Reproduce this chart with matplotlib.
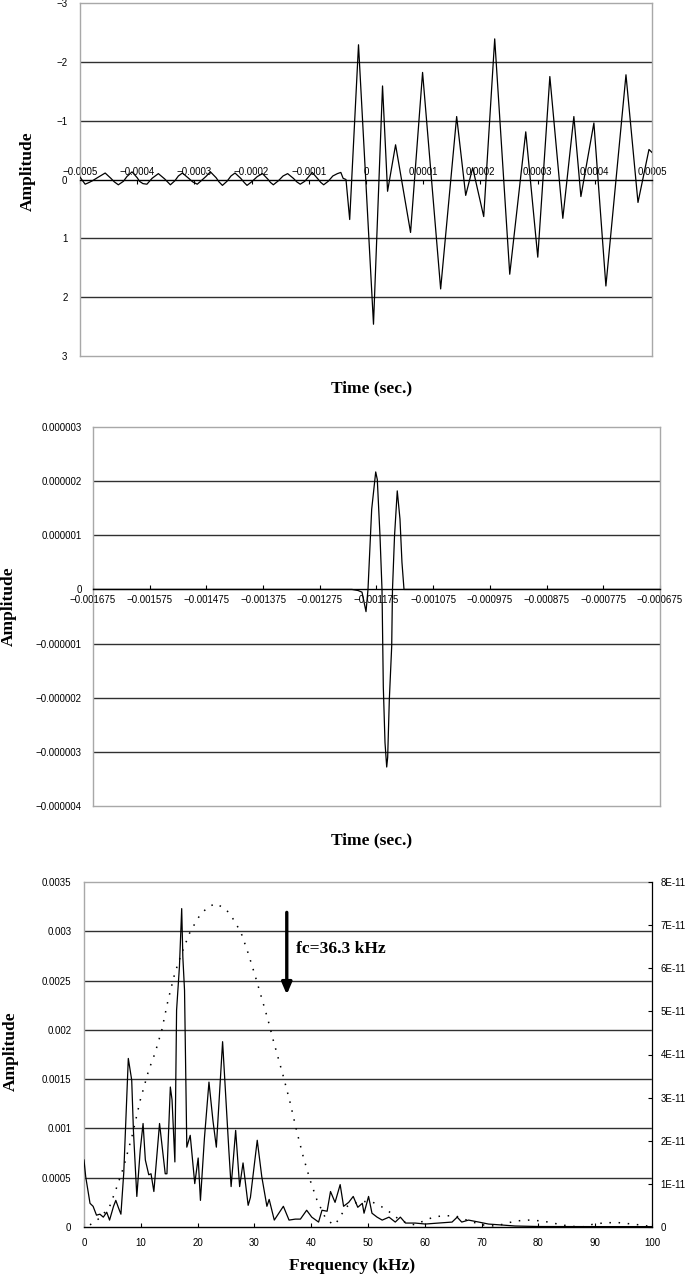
import matplotlib
matplotlib.use('Agg')
import matplotlib.pyplot as plt
import numpy as np

# ---- panel 1: incident waveform (time in microseconds, amplitude) ----
t1_us = [-500, -491, -484, -478, -468, -456, -446, -440, -433, -424, -418, -409, -400, -396, -390,
         -383, -374, -363, -352, -346, -342, -334, -328, -321, -310, -303, -295, -288, -280, -272,
         -262, -257, -251, -243, -236, -229, -219, -213, -208, -200, -190, -181, -172, -167, -162,
         -153, -145, -137, -127, -121, -115, -107, -100, -94, -85, -79, -74, -66, -58, -50,
         -44, -40, -35, -28.5, -13.1, 13.1, 28.9, 37.7, 51.7, 77.9, 98.9, 130.5, 158.5, 174.3,
         186.5, 205.8, 225.0, 251.3, 279.3, 300.3, 321.4, 344.1, 363.4, 375.7, 398.4, 419.4,
         454.5, 475.5, 494.7, 500]
amp1 = [-0.04, 0.08, 0.05, 0.02, -0.04, -0.11, -0.02, 0.04, 0.09, 0.03, -0.05, -0.13, -0.03, 0.03, 0.07,
        0.08, -0.02, -0.10, -0.01, 0.05, 0.09, 0.02, -0.06, -0.11, -0.02, 0.04, 0.08, 0.02, -0.05, -0.13,
        -0.03, 0.04, 0.10, 0.03, -0.06, -0.11, -0.02, 0.05, 0.10, 0.04, -0.05, -0.10, -0.01, 0.05, 0.09,
        0.02, -0.06, -0.10, -0.02, 0.04, 0.08, 0.03, -0.05, -0.12, -0.02, 0.05, 0.09, 0.03, -0.06, -0.10,
        -0.12, -0.02, 0.0, 0.68, -2.29, 2.46, -1.59, 0.20, -0.59, 0.90, -1.82, 1.86, -1.07, 0.27,
        -0.20, 0.63, -2.39, 1.61, -0.81, 1.32, -1.75, 0.66, -1.07, 0.29, -0.96, 1.81,
        -1.78, 0.39, -0.51, -0.46]
x1_ticks = [-0.0005, -0.0004, -0.0003, -0.0002, -0.0001, 0, 0.0001, 0.0002, 0.0003, 0.0004, 0.0005]
x1_labels = ['\u22120.0005', '\u22120.0004', '\u22120.0003', '\u22120.0002', '\u22120.0001',
             '0', '0.0001', '0.0002', '0.0003', '0.0004', '0.0005']
y1_ticks = [-3, -2, -1, 0, 1, 2, 3]
y1_labels = ['\u22123', '\u22122', '\u22121', '0', '1', '2', '3']

# ---- panel 2: extracted pulse (time in microseconds, amplitude) ----
t2_us = [-1675, -1218.2, -1207.6, -1200.6, -1193.5, -1190.0, -1183.5, -1176.4, -1173.6, -1168.8,
         -1165.3, -1163.0, -1160.0, -1157.0, -1155.3, -1152.4, -1148.2, -1146.8, -1143.2, -1138.4,
         -1133.6, -1130.1, -1126.5, -675]
amp2 = [0, 0, -0.02e-6, -0.05e-6, -0.41e-6, 0.0, 1.48e-6, 2.17e-6, 2.03e-6, 0.98e-6,
        0.0, -1.8e-6, -2.83e-6, -3.28e-6, -3.1e-6, -2.04e-6, -1.05e-6, 0.0, 0.99e-6, 1.82e-6,
        1.3e-6, 0.5e-6, 0.0, 0.0]
x2_ticks = [-0.001675, -0.001575, -0.001475, -0.001375, -0.001275, -0.001175,
            -0.001075, -0.000975, -0.000875, -0.000775, -0.000675]
x2_labels = ['\u22120.001675', '\u22120.001575', '\u22120.001475', '\u22120.001375', '\u22120.001275',
             '\u22120.001175', '\u22120.001075', '\u22120.000975', '\u22120.000875', '\u22120.000775',
             '\u22120.000675']
y2_ticks = [-4e-6, -3e-6, -2e-6, -1e-6, 0, 1e-6, 2e-6, 3e-6]
y2_labels = ['\u22120.000004', '\u22120.000003', '\u22120.000002', '\u22120.000001', '0',
             '0.000001', '0.000002', '0.000003']

# ---- panel 3: spectrum (kHz) ----
freq_solid = [0, 0.3, 1.06, 1.6, 2.2, 2.8, 3.4, 4.0, 4.5, 5.2, 5.6, 6.1, 6.5, 7.0, 7.8, 8.4, 8.7, 9.3,
              9.9, 10.4, 10.8, 11.4, 11.8, 12.3, 13.3, 14.3, 14.6, 15.2, 15.5, 16.0, 16.3, 16.8, 17.2,
              17.4, 17.7, 18.1, 18.7, 19.5, 20.1, 20.5, 21.2, 22.0, 22.7, 23.3, 24.4, 25.5, 25.9,
              26.7, 27.4, 28.0, 28.9, 29.3, 30.5, 31.3, 32.2, 32.6, 33.5, 35.1, 36.1, 37.2, 38.1,
              39.2, 40.1, 41.3, 41.9, 42.8, 43.4, 44.2, 45.1, 45.7, 46.6, 47.4, 48.2, 49.0, 49.3,
              50.1, 50.7, 51.6, 52.5, 53.7, 54.8, 55.7, 56.6, 58.3, 60.1, 62.4, 64.8, 65.7, 66.5,
              67.7, 69.5, 71.2, 73.6, 75.9, 80, 90, 100]
amp_solid = [0.00068, 0.00051, 0.00024, 0.00021, 0.00012, 0.00013, 0.0001, 0.00015, 0.00007, 0.00021,
             0.00027, 0.00019, 0.00013, 0.00055, 0.00171, 0.00149, 0.00098, 0.00031, 0.00078, 0.00105,
             0.00068, 0.00053, 0.00054, 0.00036, 0.00105, 0.00054, 0.00054, 0.00142, 0.00129, 0.00066,
             0.0022, 0.00264, 0.00323, 0.00274, 0.0024, 0.00081, 0.00093, 0.00044, 0.0007, 0.00027,
             0.0009, 0.00147, 0.00108, 0.00081, 0.00188, 0.00078, 0.00041, 0.00098, 0.00041, 0.00065,
             0.00022, 0.0003, 0.00088, 0.00051, 0.00021, 0.00028, 0.00007, 0.00021, 0.00007, 0.00008,
             0.00008, 0.00017, 0.0001, 0.00005, 0.00017, 0.00016, 0.00036, 0.00025, 0.00043, 0.00021,
             0.00025, 0.00031, 0.0002, 0.00024, 0.00014, 0.00031, 0.00014, 0.0001, 0.00007, 0.0001,
             0.00005, 0.0001, 0.00004, 0.00004, 0.00003, 0.00004, 0.00005, 0.0001, 0.00005, 0.00007,
             0.00005, 0.00003, 0.00002, 0.00001, 0.000005, 0.000004, 0.000004]
freq_dot = [1.06, 2.8, 4.5, 5.6, 7.0, 8.5, 9.9, 11.4, 12.5, 13.7, 14.8, 16.0, 17.2, 18.7, 20.4, 21.9,
            23.3, 25.1, 26.6, 27.8, 28.9, 30.1, 31.3, 32.4, 33.3, 35.1, 36.3, 37.4, 38.6, 39.8, 41.0,
            42.4, 43.6, 44.2, 45.1, 46.2, 47.4, 48.9, 50.6, 52.4, 54.1, 55.6, 57.1, 58.3, 60.1, 61.8,
            63.6, 65.4, 66.5, 68.3, 70.1, 72.4, 74.2, 76.0, 78.3, 80.7, 83.0, 85.4, 87.7, 89.5, 91.8,
            94.2, 97.1, 99.4]
amp_dot_e11 = [0.05, 0.21, 0.47, 0.86, 1.4, 2.13, 2.94, 3.64, 4.03, 4.57, 5.26, 5.89, 6.35, 6.85, 7.23,
               7.43, 7.5, 7.35, 7.08, 6.77, 6.35, 5.84, 5.3, 4.8, 4.34, 3.49, 2.88, 2.25, 1.63, 1.09,
               0.63, 0.24, 0.08, 0.05, 0.24, 0.47, 0.55, 0.59, 0.59, 0.47, 0.32, 0.16, 0.08, 0.05, 0.16,
               0.24, 0.26, 0.26, 0.2, 0.12, 0.05, 0.02, 0.08, 0.14, 0.16, 0.14, 0.08, 0.02, 0.0, 0.06,
               0.1, 0.1, 0.06, 0.02]
x3_ticks = [0, 10, 20, 30, 40, 50, 60, 70, 80, 90, 100]
y3_ticks = [0, 0.0005, 0.001, 0.0015, 0.002, 0.0025, 0.003, 0.0035]
y3_labels = ['0', '0.0005', '0.001', '0.0015', '0.002', '0.0025', '0.003', '0.0035']
y3r_ticks = [0, 1e-11, 2e-11, 3e-11, 4e-11, 5e-11, 6e-11, 7e-11, 8e-11]
y3r_labels = ['0', '1E-11', '2E-11', '3E-11', '4E-11', '5E-11', '6E-11', '7E-11', '8E-11']
fc = 35.7

W, H = 685, 1275
FRAME = '#a8a8a8'
GRID = '#303030'
SANS = 'Liberation Sans'
SERIF = 'Liberation Serif'
TICK = 7
LAB = 12.5

fig = plt.figure(figsize=(W / 100, H / 100), dpi=100)


def px_axes(left, top, right, bottom):
    return fig.add_axes([left / W, 1 - bottom / H, (right - left) / W, (bottom - top) / H])


def style_frame(ax):
    for s in ax.spines.values():
        s.set_color(FRAME)
        s.set_linewidth(1)
    for lab in ax.get_xticklabels() + ax.get_yticklabels():
        lab.set_fontfamily(SANS)
        lab.set_fontsize(TICK)


# ---------------- panel 1 ----------------
ax1 = px_axes(80, 3, 652, 356)
ax1.plot(np.array(t1_us) * 1e-6, amp1, color='black', lw=0.9, zorder=3)
ax1.set_xlim(-0.0005, 0.0005)
ax1.set_ylim(3, -3)
for g in [-2, -1, 1, 2]:
    ax1.axhline(g, color=GRID, lw=1, zorder=1)
ax1.axhline(-3, color=FRAME, lw=1, clip_on=False)
ax1.xaxis.set_ticks_position('top')
ax1.spines['top'].set_position(('data', 0))
ax1.set_xticks(x1_ticks, x1_labels)
ax1.set_yticks(y1_ticks, y1_labels)
style_frame(ax1)
ax1.spines['top'].set_color('black')
ax1.tick_params(axis='x', direction='in', length=3, pad=2, color='black')
ax1.tick_params(axis='y', length=0, pad=9)

# ---------------- panel 2 ----------------
ax2 = px_axes(93, 427, 660, 806)
ax2.plot(np.array(t2_us) * 1e-6, amp2, color='black', lw=0.9, zorder=3)
ax2.set_xlim(-0.001675, -0.000675)
ax2.set_ylim(-4e-6, 3e-6)
for g in [2e-6, 1e-6, -1e-6, -2e-6, -3e-6]:
    ax2.axhline(g, color=GRID, lw=1, zorder=1)
ax2.axhline(-4e-6, color=FRAME, lw=1, clip_on=False)
ax2.spines['bottom'].set_position(('data', 0))
ax2.set_xticks(x2_ticks, x2_labels)
ax2.set_yticks(y2_ticks, y2_labels)
style_frame(ax2)
ax2.spines['bottom'].set_color('black')
ax2.tick_params(axis='x', direction='in', length=3, pad=4, color='black')
ax2.tick_params(axis='y', length=0, pad=8)

# ---------------- panel 3 ----------------
ax3 = px_axes(84, 882, 652, 1227)
ax3.plot(freq_solid, amp_solid, color='black', lw=0.9, zorder=3)
ax3.set_xlim(0, 100)
ax3.set_ylim(0, 0.0035)
for g in y3_ticks[1:-1]:
    ax3.axhline(g, color=GRID, lw=1, zorder=1)
ax3.set_xticks(x3_ticks, [str(v) for v in x3_ticks])
ax3.set_yticks(y3_ticks, y3_labels)
style_frame(ax3)
ax3.spines['bottom'].set_color('black')
ax3.tick_params(axis='x', direction='in', length=3, pad=8, color='black')
ax3.tick_params(axis='y', length=0, pad=9)
ax3.annotate('', xy=(fc, 0.00233), xytext=(fc, 0.00322),
             arrowprops=dict(arrowstyle='-|>,head_length=0.7,head_width=0.3', lw=2.4, color='black'))
ax3.text(37.4, 0.00282, 'fc=36.3 kHz', fontfamily=SERIF, fontweight='bold', fontsize=LAB,
         va='center', ha='left')

ax3r = ax3.twinx()
ax3r.plot(freq_dot, np.array(amp_dot_e11) * 1e-11, color='black', lw=1.1, linestyle=(0, (1, 5)))
ax3r.set_ylim(0, 8e-11)
ax3r.set_yticks(y3r_ticks, y3r_labels)
for s in ['top', 'left', 'bottom']:
    ax3r.spines[s].set_visible(False)
ax3r.spines['right'].set_color('black')
ax3r.tick_params(axis='y', direction='in', length=3, pad=6, color='black')
for lab in ax3r.get_yticklabels():
    lab.set_fontfamily(SANS)
    lab.set_fontsize(TICK)

# ---------------- axis titles ----------------
def label(x, y, s, rot=0):
    fig.text(x / W, 1 - y / H, s, fontfamily=SERIF, fontweight='bold', fontsize=LAB,
             rotation=rot, ha='center', va='center')


label(28, 171, 'Amplitude', 90)
label(372, 388, 'Time (sec.)')
label(9, 606, 'Amplitude', 90)
label(372, 840, 'Time (sec.)')
label(11, 1051, 'Amplitude', 90)
label(352, 1266, 'Frequency (kHz)')

fig.savefig('out.png', dpi=100)
